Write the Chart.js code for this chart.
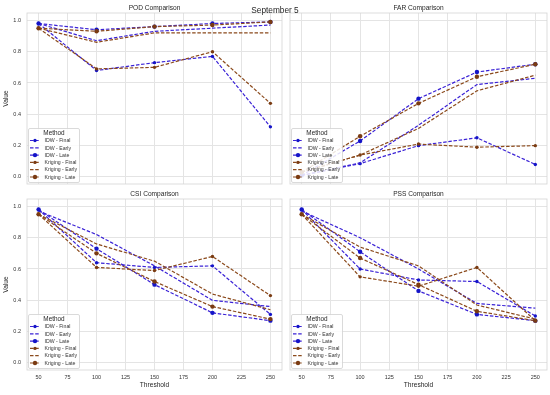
<!DOCTYPE html>
<html>
<head>
<meta charset="utf-8">
<script src="https://cdn.jsdelivr.net/npm/chart.js@4/dist/chart.umd.min.js"></script>
<style>
  html, body { margin: 0; padding: 0; background: #fff; }
  #fig { position: relative; width: 550px; height: 395px; overflow: hidden; font-family: "Liberation Sans", Arial, sans-serif; }
  #fig canvas { position: absolute; left: 0; top: 0; }
  #suptitle { position: absolute; left: 0; top: 4px; width: 550px; text-align: center; font-size: 8.3px; line-height: 12px; color: #262626; z-index: 10; }
</style>
</head>
<body>
<div id="fig">
  <canvas id="c-pod" width="550" height="395"></canvas>
  <canvas id="c-far" width="550" height="395"></canvas>
  <canvas id="c-csi" width="550" height="395"></canvas>
  <canvas id="c-pss" width="550" height="395"></canvas>
  <div id="suptitle">September 5</div>
</div>
<script>
// ---------- data ----------
const THRESHOLDS = [50, 100, 150, 200, 250];
const X_TICKS = [50, 75, 100, 125, 150, 175, 200, 225, 250];
const Y_TICKS = [0, 0.2, 0.4, 0.6, 0.8, 1.0];
const SERIES_LABELS = ["IDW - Final", "IDW - Early", "IDW - Late", "Kriging - Final", "Kriging - Early", "Kriging - Late"];

// rows follow SERIES_LABELS
const POD_VALUES = [
  [0.98, 0.68, 0.73, 0.77, 0.32],
  [0.98, 0.87, 0.93, 0.95, 0.97],
  [0.98, 0.94, 0.96, 0.98, 0.99],
  [0.95, 0.69, 0.70, 0.80, 0.47],
  [0.95, 0.86, 0.92, 0.92, 0.92],
  [0.95, 0.93, 0.96, 0.97, 0.99]
];
const FAR_VALUES = [
  [0.01, 0.085, 0.20, 0.25, 0.08],
  [0.01, 0.09, 0.33, 0.59, 0.63],
  [0.01, 0.23, 0.50, 0.67, 0.72],
  [0.03, 0.14, 0.21, 0.19, 0.20],
  [0.03, 0.14, 0.31, 0.55, 0.65],
  [0.03, 0.26, 0.47, 0.64, 0.72]
];
const CSI_VALUES = [
  [0.98, 0.64, 0.61, 0.62, 0.31],
  [0.97, 0.82, 0.62, 0.40, 0.36],
  [0.98, 0.73, 0.50, 0.32, 0.27],
  [0.95, 0.61, 0.59, 0.68, 0.43],
  [0.95, 0.76, 0.65, 0.44, 0.34],
  [0.95, 0.70, 0.52, 0.36, 0.28]
];
const PSS_VALUES = [
  [0.98, 0.60, 0.53, 0.52, 0.30],
  [0.97, 0.80, 0.60, 0.38, 0.35],
  [0.98, 0.71, 0.46, 0.31, 0.27],
  [0.95, 0.55, 0.49, 0.61, 0.27],
  [0.95, 0.74, 0.62, 0.37, 0.28],
  [0.95, 0.67, 0.50, 0.33, 0.27]
];

// ---------- style ----------
const FONT = "'Liberation Sans', Arial, sans-serif";
const TEXT = "#262626";
const GRID = "#e4e4e4";
const FRAME = "#d4d4d4";
const LINE_COLORS = ["#3a22d6", "#3a22d6", "#3a22d6", "#8b4a1c", "#8b4a1c", "#8b4a1c"];
const MARK_COLORS = ["#1414c8", "#1414c8", "#1414c8", "#7a3b12", "#7a3b12", "#7a3b12"];
const MARK_SIZES = [1.7, 0, 2.2, 1.7, 0, 2.2];
const X_MIN = 40, X_MAX = 260;
const Y_MIN = -0.045, Y_MAX = 1.047;

// frame around the plot area
const framePlugin = {
  id: "frame",
  beforeDatasetsDraw(chart) {
    const a = chart.chartArea, ctx = chart.ctx;
    ctx.save();
    ctx.strokeStyle = FRAME;
    ctx.lineWidth = 0.8;
    ctx.strokeRect(a.left, a.top, a.right - a.left, a.bottom - a.top);
    ctx.restore();
  }
};

// "Method" legend in the lower left corner
const legendPlugin = {
  id: "methodLegend",
  afterDraw(chart) {
    const ctx = chart.ctx, a = chart.chartArea;
    const w = 51, h = 54;
    const x = a.left + 1.5, y = a.bottom - 1.5 - h;
    ctx.save();
    ctx.fillStyle = "rgba(255,255,255,0.85)";
    ctx.strokeStyle = "#d0d0d0";
    ctx.lineWidth = 0.8;
    ctx.beginPath();
    ctx.roundRect(x, y, w, h, 1.5);
    ctx.fill();
    ctx.stroke();
    ctx.fillStyle = TEXT;
    ctx.font = "6.4px " + FONT;
    ctx.textAlign = "center";
    ctx.textBaseline = "middle";
    ctx.fillText("Method", x + w / 2, y + 5);
    chart.data.datasets.forEach((ds, i) => {
      const yy = y + 12 + i * 7.3;
      ctx.strokeStyle = ds.borderColor;
      ctx.lineWidth = ds.borderWidth;
      ctx.setLineDash(ds.borderDash);
      ctx.beginPath();
      ctx.moveTo(x + 1.5, yy);
      ctx.lineTo(x + 11.5, yy);
      ctx.stroke();
      ctx.setLineDash([]);
      if (ds.pointRadius > 0) {
        ctx.fillStyle = ds.pointBackgroundColor;
        ctx.beginPath();
        ctx.arc(x + 6.5, yy, ds.pointRadius, 0, Math.PI * 2);
        ctx.fill();
      }
      ctx.fillStyle = "#333";
      ctx.font = "5.2px " + FONT;
      ctx.textAlign = "left";
      ctx.fillText(ds.label, x + 16, yy + 0.3);
    });
    ctx.restore();
  }
};

function buildChart(id, title, values, area, showX, showY) {
  const [L, T, R, B] = area;
  const datasets = SERIES_LABELS.map((label, i) => ({
    label,
    data: THRESHOLDS.map((t, j) => ({ x: t, y: values[i][j] })),
    borderColor: LINE_COLORS[i],
    borderWidth: 1.2,
    borderDash: [3.5, 1.7],
    pointRadius: MARK_SIZES[i],
    pointBackgroundColor: MARK_COLORS[i],
    pointBorderWidth: 0,
    pointHoverRadius: MARK_SIZES[i],
    tension: 0,
    fill: false,
    order: SERIES_LABELS.length - i
  }));

  return new Chart(document.getElementById(id), {
    type: "line",
    data: { datasets },
    options: {
      responsive: false,
      animation: false,
      events: [],
      layout: {
        padding: {
          left: showY ? 0 : L,
          right: 550 - R,
          top: T - 0.5 - 7.92,
          bottom: showX ? 0 : 395 - B
        }
      },
      plugins: {
        legend: { display: false },
        tooltip: { enabled: false },
        title: {
          display: true,
          text: title,
          fullSize: false,
          color: TEXT,
          font: { family: FONT, size: 6.6, weight: "normal", lineHeight: 1.2 },
          padding: { top: 0, bottom: 0.5 }
        }
      },
      scales: {
        x: {
          type: "linear",
          min: X_MIN,
          max: X_MAX,
          afterBuildTicks: s => { s.ticks = X_TICKS.map(v => ({ value: v })); },
          afterFit: s => { s.height = showX ? 395 - B : 0; },
          grid: { color: GRID, lineWidth: 1, drawTicks: false },
          border: { display: false },
          ticks: { display: showX, padding: 4.5, color: "#333", font: { family: FONT, size: 5.5 }, maxRotation: 0 },
          title: { display: showX, text: "Threshold", color: TEXT, font: { family: FONT, size: 6.6 }, padding: { top: 0, bottom: 6 } }
        },
        y: {
          type: "linear",
          min: Y_MIN,
          max: Y_MAX,
          afterBuildTicks: s => { s.ticks = Y_TICKS.map(v => ({ value: v })); },
          afterFit: s => { s.width = showY ? L : 0; },
          grid: { color: GRID, lineWidth: 1, drawTicks: false },
          border: { display: false },
          ticks: { display: showY, padding: 6, color: "#333", font: { family: FONT, size: 5.5 }, callback: v => v.toFixed(1) },
          title: { display: showY, text: "Value", color: TEXT, font: { family: FONT, size: 6.6 }, padding: { top: 2, bottom: 0 } }
        }
      }
    },
    plugins: [framePlugin, legendPlugin]
  });
}

buildChart("c-pod", "POD Comparison", POD_VALUES, [27, 13, 282, 184], false, true);
buildChart("c-far", "FAR Comparison", FAR_VALUES, [290, 13, 547, 184], false, false);
buildChart("c-csi", "CSI Comparison", CSI_VALUES, [27, 199, 282, 370], true, true);
buildChart("c-pss", "PSS Comparison", PSS_VALUES, [290, 199, 547, 370], true, false);
</script>
</body>
</html>
